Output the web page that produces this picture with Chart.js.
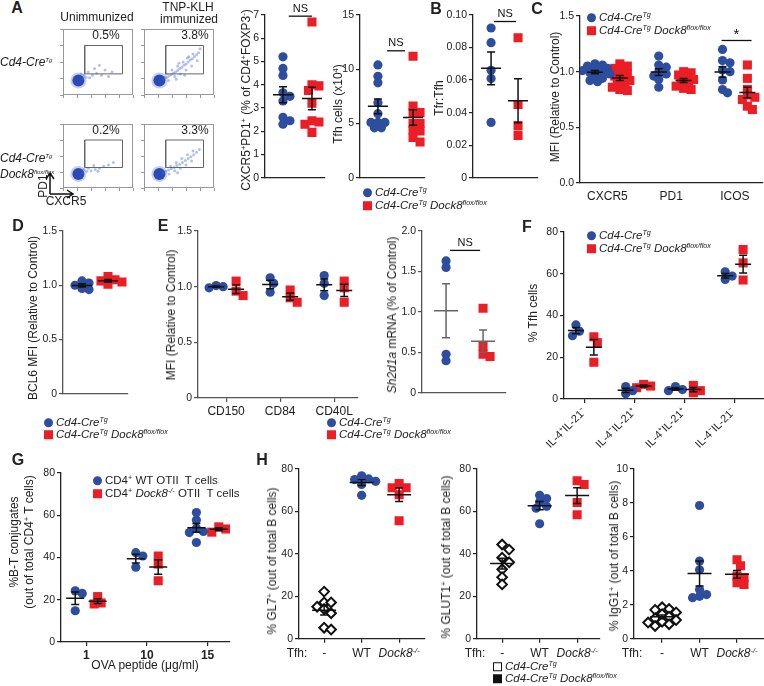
<!DOCTYPE html>
<html>
<head>
<meta charset="utf-8">
<script src="https://cdn.jsdelivr.net/npm/chart.js@4.4.1/dist/chart.umd.min.js"></script>
<style>
  body { margin: 0; width: 764px; height: 686px; overflow: hidden; background: #fff; position: relative;
         font-family: "Liberation Sans", Arial, sans-serif; color: #222; }
  canvas { position: absolute; }
  .t { position: absolute; white-space: nowrap; font-size: 12px; line-height: 1; transform: translate(-50%, -50%); }
  .t.l { transform: translate(0, -50%); }
  .t.r { transform: translate(-50%, -50%) rotate(-90deg); }
  .t.p { font-weight: bold; font-size: 16px; }
  .t.s { font-size: 11.5px; }
  sup { font-size: 0.62em; vertical-align: 0.6em; line-height: 0; }
  .tiny sup { font-size: 0.5em; }
  .dot, .sq, .osq { display: inline-block; width: 9px; height: 9px; margin-right: 3px; vertical-align: -1px; box-sizing: border-box; }
  .dot { border-radius: 50%; background: #2d4d9f; }
  .sq { background: #ec1d25; }
  .sq.k { background: #111; }
  .osq { border: 1.6px solid #111; background: #fff; }
</style>
</head>
<body>
<script>
// colours
const blue = '#2d4d9f';
const red = '#ec1d25';

// A - flow plots (axis units 0-100)
const flowGateX = [31, 85];
const flowGateY = [32, 75];
const flowPct = ['0.5%', '3.8%', '0.2%', '3.3%'];
const flowCore = [22, 22];
const tailUnimmCtrl = [[28,25],[33,27],[38,26],[30,30],[42,30],[48,33],[55,30],[36,35],[60,38],[45,40],[70,35],[52,45],[65,28],[26,32]];
const tailImmCtrl = [[27,24],[30,26],[33,27],[36,29],[39,31],[42,33],[45,35],[48,37],[51,40],[54,42],[57,45],[60,47],[63,50],[66,53],[69,55],[72,58],[75,61],[78,64],[32,32],[40,38],[48,44],[56,50],[64,58],[44,28],[52,32],[60,38],[68,44],[76,52],[35,22],[46,24],[58,30],[70,62],[80,70],[62,56],[50,48]];
const tailUnimmKO = [[28,24],[34,26],[40,27],[46,29],[52,31],[36,31],[58,34],[44,35],[65,36],[30,29],[50,26],[72,40]];
const tailImmKO = [[27,24],[31,26],[35,28],[39,30],[43,32],[47,35],[51,37],[55,40],[59,43],[63,46],[67,49],[71,52],[75,56],[79,60],[38,34],[46,40],[54,46],[62,52],[70,58],[44,27],[52,31],[60,36],[68,42],[36,22],[48,24]];

// A - Tfh frequency and number
const tfhPctCtrl = [5.2, 4.7, 4.4, 3.65, 3.5, 3.3, 2.6, 2.45, 2.3];
const tfhPctKO = [6.7, 4.0, 3.95, 3.75, 3.2, 2.45, 2.4, 2.3, 1.95];
const tfhNumCtrl = [10.4, 9.35, 8.75, 6.9, 5.9, 5.1, 5.1, 5.1, 4.6, 4.6];
const tfhNumKO = [11.2, 6.6, 6.0, 6.0, 5.0, 5.0, 4.4, 4.3, 3.7, 3.3];
// B
const tfrCtrl = [0.092, 0.083, 0.066, 0.061, 0.034];
const tfrKO = [0.086, 0.045, 0.032, 0.026];
// C
const mfiMarkers = ['CXCR5', 'PD1', 'ICOS'];
const mfiCtrl = [
  [1.07, 1.06, 1.05, 1.03, 1.02, 1.01, 1.0, 0.99, 0.98, 0.96, 0.94, 0.92, 0.91],
  [1.14, 1.06, 1.04, 1.0, 0.98, 0.96, 0.93, 0.86],
  [1.2, 1.1, 1.08, 1.015, 1.0, 0.925, 0.84, 0.81]
];
const mfiKO = [
  [1.07, 1.05, 1.03, 1.0, 0.98, 0.96, 0.94, 0.92, 0.9, 0.88, 0.86, 0.84, 0.83],
  [1.0, 0.99, 0.97, 0.95, 0.93, 0.91, 0.89, 0.87, 0.85, 0.84],
  [1.06, 0.94, 0.84, 0.79, 0.77, 0.75, 0.69, 0.66]
];
// D
const bcl6Ctrl = [1.04, 1.02, 1.0, 0.97, 0.96];
const bcl6KO = [1.08, 1.05, 1.04, 1.03, 1.01];
// E
const slamMarkers = ['CD150', 'CD84', 'CD40L'];
const slamCtrl = [[1.01, 1.0, 0.99], [1.08, 1.03, 0.95], [1.1, 1.03, 0.92]];
const slamKO = [[1.05, 0.96, 0.92], [0.97, 0.9, 0.86], [1.05, 0.99, 0.86]];
const sh2d1aCtrl = [1.63, 1.55, 0.475, 0.395];
const sh2d1aKO = [1.045, 0.575, 0.475, 0.447];
// F
const cytoGroups = ['IL-4⁺IL-21⁻', 'IL-4⁻IL-21⁺', 'IL-4⁺IL-21⁺', 'IL-4⁻IL-21⁻'];
const cytoCtrl = [[35.5, 32.5, 30.3], [6, 4, 2.5], [6, 4.5, 4], [60.9, 58.9, 57.3]];
const cytoKO = [[29.8, 27, 17.6], [7, 6.2, 5.4], [6.5, 4, 3], [71.6, 65.2, 57]];
// G
const ovaDoses = ['1', '10', '15'];
const conjWT = [[24.2, 23, 14.8], [42.3, 40.7, 35.4], [61.3, 57.8, 53.9, 52.3, 51.8, 47.1]];
const conjKO = [[21.5, 18.5, 18], [40.7, 36.9, 29], [54.5, 53.5, 52]];
// H
const tfhTypes = ['-', 'WT', '<i>Dock8<sup>-/-</sup></i>'];
const gl7None = [22.2, 17.1, 17.1, 15.1, 14, 12, 5.2, 4.3];
const gl7WT = [76.8, 75.3, 75, 74.2, 72.7, 67.6];
const gl7KO = [73.2, 71.2, 71.2, 67.9, 55.6];
const glut1None = [44.4, 42, 38.2, 36, 32.7, 29, 25.6];
const glut1WT = [67.6, 66.1, 64.5, 62.4, 61.5, 54.2];
const glut1KO = [74.5, 72.7, 64.2, 58.4];
const igg1None = [1.85, 1.75, 1.7, 1.55, 1.45, 1.3, 1.2, 1.1, 1.0, 0.95, 0.85, 0.75];
const igg1WT = [7.85, 4.58, 4.06, 2.9, 2.6, 2.5, 2.42];
const igg1KO = [4.65, 4.3, 3.7, 3.6, 3.3, 3.2];

// ---------- helpers ----------
Chart.defaults.font.family = '"Liberation Sans", Arial, sans-serif';
Chart.defaults.color = '#222';
Chart.defaults.animation = false;
Chart.defaults.plugins.legend.display = false;
Chart.defaults.plugins.tooltip.enabled = false;

const styles = {
  ctrl: { pointStyle: 'circle', pointRadius: 4.6, backgroundColor: blue, borderWidth: 0 },
  ko: { pointStyle: 'rect', pointRadius: 6.4, backgroundColor: red, borderWidth: 0 },
  none: { pointStyle: 'rectRot', pointRadius: 4.8, backgroundColor: '#fff', borderColor: '#111', borderWidth: 2 }
};

function txt(html, x, y, cls, css) {
  const d = document.createElement('div');
  d.className = 't ' + (cls || '');
  d.innerHTML = html;
  d.style.left = x + 'px';
  d.style.top = y + 'px';
  if (css) d.style.cssText += css;
  document.body.appendChild(d);
}

function legend(x, y, rows, gap) {
  rows.forEach((r, i) => txt('<span class="' + r[0] + '"></span>' + r[1], x, y + i * (gap || 13), 'l s', r[2]));
}

function makeCanvas(box, yW, padL, padT, padR, xH) {
  const c = document.createElement('canvas');
  c.width = padL + yW + (box.r - box.l) + padR;
  c.height = padT + (box.b - box.t) + xH;
  c.style.left = (box.l - yW - padL) + 'px';
  c.style.top = (box.t - padT) + 'px';
  document.body.appendChild(c);
  return c;
}

// simple beeswarm: horizontal pixel offsets so points don't pile up
function swarm(vals, pxY, step, minD) {
  const order = vals.map((v, i) => i).sort((a, b) => vals[b] - vals[a]);
  const placed = [], offs = [];
  order.forEach(i => {
    const y = vals[i] * pxY;
    for (let k = 0; k < 40; k++) {
      const off = (k % 2 ? 1 : -1) * Math.ceil(k / 2) * step;
      if (placed.every(p => (p.x - off) ** 2 + (p.y - y) ** 2 >= minD * minD)) {
        placed.push({ x: off, y });
        offs[i] = off;
        break;
      }
    }
  });
  return offs;
}

function dotPlot(box, o) {
  const yW = 40, padL = 40, padT = 18, padR = 24, xH = o.xH || 3;
  const c = makeCanvas(box, yW, padL, padT, padR, xH);
  const pxX = (box.r - box.l) / (o.xMax - o.xMin);
  const pxY = (box.b - box.t) / o.yMax;
  const nS = o.series.length;
  const stats = [];
  const axisCol = o.axisCol || '#222';
  const datasets = o.series.map((s, si) => {
    const pts = [];
    s.values.forEach((vals, g) => {
      if (!vals) return;
      const cx = g + (o.sep ? (si - (nS - 1) / 2) * o.sep : 0);
      const offs = swarm(vals, pxY, o.step || 3.5, o.minD || 6.5);
      vals.forEach((v, i) => pts.push({ x: cx + offs[i] / pxX, y: v }));
      const m = vals.reduce((a, b) => a + b, 0) / vals.length;
      const sd = Math.sqrt(vals.reduce((a, b) => a + (b - m) ** 2, 0) / (vals.length - 1));
      stats.push({ x: cx, m, e: sd / Math.sqrt(vals.length) });
    });
    return Object.assign({ data: pts }, styles[s.kind]);
  });

  new Chart(c, {
    type: 'scatter',
    data: { datasets },
    options: {
      responsive: false,
      layout: { padding: { left: padL, top: padT, right: padR, bottom: 0 } },
      scales: {
        x: {
          type: 'linear', min: o.xMin, max: o.xMax,
          afterFit: s => { s.height = xH; },
          afterBuildTicks: s => { s.ticks = o.groups.map((g, i) => ({ value: i })); },
          ticks: {
            display: !!o.xLabels, autoSkip: false, maxRotation: o.rot || 0, minRotation: o.rot || 0,
            font: o.xFont || { size: 12 }, color: '#222', padding: 2,
            callback: (v, i) => o.groups[i]
          },
          grid: { display: !!o.xTicks, drawOnChartArea: false, tickLength: 4, color: axisCol, lineWidth: 1.2 },
          border: { display: true, color: axisCol, width: 1.3 }
        },
        y: {
          min: 0, max: o.yMax,
          afterFit: s => { s.width = yW; },
          ticks: { stepSize: o.yStep, callback: o.yFmt || (v => v), font: { size: 10.5 }, color: '#222', padding: 2 },
          grid: { drawOnChartArea: false, tickLength: 4, color: axisCol, lineWidth: 1.2 },
          border: { color: axisCol, width: 1.3 }
        }
      }
    },
    plugins: [{
      id: 'meanSem',
      afterDatasetsDraw(chart) {
        const { ctx, scales: { x, y } } = chart;
        const mw = o.meanW || 10, cw = o.capW || 4;
        ctx.save();
        ctx.strokeStyle = o.barCol || '#111';
        ctx.lineWidth = 1.5;
        stats.forEach(s => {
          const px = x.getPixelForValue(s.x), pm = y.getPixelForValue(s.m);
          const p1 = y.getPixelForValue(s.m - s.e), p2 = y.getPixelForValue(s.m + s.e);
          ctx.beginPath();
          ctx.moveTo(px - mw, pm); ctx.lineTo(px + mw, pm);
          ctx.moveTo(px, p1); ctx.lineTo(px, p2);
          ctx.moveTo(px - cw, p1); ctx.lineTo(px + cw, p1);
          ctx.moveTo(px - cw, p2); ctx.lineTo(px + cw, p2);
          ctx.stroke();
        });
        if (o.bracket) {
          const b = o.bracket;
          const x1 = x.getPixelForValue(b.x[0]), x2 = x.getPixelForValue(b.x[1]), py = y.getPixelForValue(b.y);
          ctx.strokeStyle = '#111';
          ctx.lineWidth = 1.3;
          ctx.beginPath(); ctx.moveTo(x1, py); ctx.lineTo(x2, py); ctx.stroke();
          ctx.fillStyle = '#111';
          ctx.font = (b.size || 11) + 'px "Liberation Sans", Arial, sans-serif';
          ctx.textAlign = 'center';
          ctx.textBaseline = 'bottom';
          ctx.fillText(b.text, (x1 + x2) / 2, py - (b.lift || 2));
        }
        ctx.restore();
      }
    }]
  });
  return g => box.l + (g - o.xMin) * pxX;
}

function flowPlot(box, tail) {
  const c = makeCanvas(box, 6, 4, 4, 4, 6);
  const gate = [[0, 0], [1, 0], [1, 1], [0, 1], [0, 0]].map(p => ({ x: flowGateX[p[0]], y: flowGateY[p[1]] }));
  const core = [[8, 'rgba(70,100,210,0.3)'], [6, '#2240a8'], [4.7, '#2b9fd9'], [3.5, '#3cbf5c'], [2.3, '#e6e030'], [1.2, '#e0381f']];
  new Chart(c, {
    type: 'scatter',
    data: {
      datasets: [
        { data: tail.map(p => ({ x: p[0], y: p[1] })), pointRadius: 1.5, backgroundColor: 'rgba(70,100,210,0.4)', borderWidth: 0 }
      ].concat(core.map(k => ({ data: [{ x: flowCore[0], y: flowCore[1] }], pointRadius: k[0], backgroundColor: k[1], borderWidth: 0 })))
       .concat([{ data: gate, showLine: true, pointRadius: 0, borderColor: '#666', borderWidth: 1 }])
    },
    options: {
      responsive: false,
      layout: { padding: { left: 4, top: 4, right: 4, bottom: 0 } },
      scales: {
        x: { min: 0, max: 100, afterFit: s => { s.height = 6; }, ticks: { display: false, stepSize: 20 },
             grid: { drawOnChartArea: false, tickLength: 3, color: '#999' }, border: { display: false } },
        y: { min: 0, max: 100, afterFit: s => { s.width = 6; }, ticks: { display: false, stepSize: 25 },
             grid: { drawOnChartArea: false, tickLength: 3, color: '#999' }, border: { display: false } }
      }
    },
    plugins: [{
      id: 'frame',
      beforeDatasetsDraw(chart) {
        const a = chart.chartArea, ctx = chart.ctx;
        ctx.save(); ctx.strokeStyle = '#999'; ctx.lineWidth = 1;
        ctx.strokeRect(a.left + 0.5, a.top + 0.5, a.right - a.left - 1, a.bottom - a.top - 1);
        ctx.restore();
      }
    }]
  });
}

const ctrlName = '<i>Cd4-Cre<sup>Tg</sup></i>';
const koName = '<i>Cd4-Cre<sup>Tg</sup> Dock8<sup>flox/flox</sup></i>';
const fmt1 = v => v === 0 ? '0' : v.toFixed(1);

// ---------- A ----------
flowPlot({ l: 63, t: 25, r: 137, b: 97 }, tailUnimmCtrl);
flowPlot({ l: 144, t: 25, r: 218, b: 97 }, tailImmCtrl);
flowPlot({ l: 63, t: 120, r: 137, b: 190 }, tailUnimmKO);
flowPlot({ l: 144, t: 120, r: 218, b: 190 }, tailImmKO);

dotPlot({ l: 265, t: 15, r: 325, b: 183 }, {
  groups: [''], xMin: -1.12, xMax: 0.95, sep: 1, yMax: 7, yStep: 1,
  series: [{ kind: 'ctrl', values: [tfhPctCtrl] }, { kind: 'ko', values: [tfhPctKO] }],
  bracket: { x: [-0.3, 0.5], y: 6.95, text: 'NS' }
});
dotPlot({ l: 360, t: 15, r: 425, b: 183 }, {
  groups: [''], xMin: -1.01, xMax: 0.84, sep: 1, yMax: 15, yStep: 5,
  series: [{ kind: 'ctrl', values: [tfhNumCtrl] }, { kind: 'ko', values: [tfhNumKO] }],
  bracket: { x: [-0.24, 0.27], y: 11.7, text: 'NS' }
});

// ---------- B ----------
dotPlot({ l: 473, t: 15, r: 538, b: 183 }, {
  groups: [''], xMin: -1.17, xMax: 1.24, sep: 1, yMax: 0.1, yStep: 0.02,
  yFmt: v => v === 0 ? '0' : v.toFixed(2),
  series: [{ kind: 'ctrl', values: [tfrCtrl] }, { kind: 'ko', values: [tfrKO] }],
  bracket: { x: [-0.39, 0.43], y: 0.096, text: 'NS' }
});

// ---------- C ----------
dotPlot({ l: 580, t: 16, r: 763, b: 183 }, {
  groups: mfiMarkers, xLabels: true, xH: 22, xMin: -0.43, xMax: 2.44, sep: 0.39, yMax: 1.5, yStep: 0.5,
  yFmt: v => v.toFixed(1), meanW: 8, capW: 4, step: 2.5, minD: 5.5,
  series: [{ kind: 'ctrl', values: mfiCtrl }, { kind: 'ko', values: mfiKO }],
  bracket: { x: [1.79, 2.26], y: 1.28, text: '*', size: 15, lift: -2 }
});

// ---------- D ----------
dotPlot({ l: 63, t: 231, r: 128, b: 399 }, {
  groups: [''], xMin: -1.23, xMax: 1.27, sep: 1, yMax: 1.5, yStep: 0.5, yFmt: fmt1, axisCol: '#555',
  series: [{ kind: 'ctrl', values: [bcl6Ctrl] }, { kind: 'ko', values: [bcl6KO] }]
});

// ---------- E ----------
dotPlot({ l: 198, t: 231, r: 358, b: 398 }, {
  groups: slamMarkers, xLabels: true, xTicks: true, xH: 24, xMin: -0.52, xMax: 2.44, sep: 0.37,
  yMax: 1.5, yStep: 0.5, yFmt: fmt1, axisCol: '#555', meanW: 8,
  series: [{ kind: 'ctrl', values: slamCtrl }, { kind: 'ko', values: slamKO }]
});
dotPlot({ l: 422, t: 231, r: 506, b: 398 }, {
  groups: [''], xMin: -1.15, xMax: 1.12, sep: 1, yMax: 2, yStep: 0.5, yFmt: fmt1, axisCol: '#555',
  barCol: '#666', meanW: 12, capW: 4,
  series: [{ kind: 'ctrl', values: [sh2d1aCtrl] }, { kind: 'ko', values: [sh2d1aKO] }],
  bracket: { x: [-0.39, 0.42], y: 1.76, text: 'NS' }
});

// ---------- F ----------
dotPlot({ l: 564, t: 232, r: 764, b: 399 }, {
  groups: cytoGroups, xLabels: true, xTicks: true, xH: 62, rot: 45, xFont: { size: 11 },
  xMin: -0.42, xMax: 3.6, sep: 0.36, yMax: 80, yStep: 20, meanW: 8,
  series: [{ kind: 'ctrl', values: cytoCtrl }, { kind: 'ko', values: cytoKO }]
});

// ---------- G ----------
dotPlot({ l: 61, t: 473, r: 230, b: 642 }, {
  groups: ovaDoses, xLabels: true, xTicks: true, xH: 22, xFont: { size: 12, weight: 'bold' },
  xMin: -0.42, xMax: 2.37, sep: 0.37, yMax: 80, yStep: 20, meanW: 9,
  series: [{ kind: 'ctrl', values: conjWT }, { kind: 'ko', values: conjKO }]
});

// ---------- H ----------
const hBoxes = [
  { l: 299, t: 469, r: 425, b: 642, xMin: -0.67, xMax: 2.69, yMax: 80, yStep: 20, v: [gl7None, gl7WT, gl7KO] },
  { l: 477, t: 469, r: 600, b: 642, xMin: -0.67, xMax: 2.61, yMax: 80, yStep: 20, v: [glut1None, glut1WT, glut1KO] },
  { l: 634, t: 469, r: 764, b: 642, xMin: -0.75, xMax: 2.72, yMax: 10, yStep: 2, v: [igg1None, igg1WT, igg1KO] }
];
hBoxes.forEach(h => {
  const tickX = dotPlot(h, {
    groups: tfhTypes, xTicks: true, xH: 5, xMin: h.xMin, xMax: h.xMax, sep: 0,
    yMax: h.yMax, yStep: h.yStep, meanW: 12, capW: 4,
    series: [
      { kind: 'none', values: [h.v[0], null, null] },
      { kind: 'ctrl', values: [null, h.v[1], null] },
      { kind: 'ko', values: [null, null, h.v[2]] }
    ]
  });
  txt('Tfh:', h.l - 2, 653);
  tfhTypes.forEach((t, g) => txt(t, tickX(g), 653));
});

// ---------- text ----------
txt('A', 17, 8, 'p');
txt('B', 436, 9, 'p');
txt('C', 537, 9, 'p');
txt('D', 18, 226, 'p');
txt('E', 163, 226, 'p');
txt('F', 527, 227, 'p');
txt('G', 18, 460, 'p');
txt('H', 262, 460, 'p');

txt('Unimmunized', 97, 17);
txt('TNP-KLH', 188, 7);
txt('immunized', 189, 19);
txt(flowPct[0], 106, 35);
txt(flowPct[1], 195, 35);
txt(flowPct[2], 106, 130);
txt(flowPct[3], 195, 130);
txt(ctrlName, 0, 62, 'l tiny');
txt(ctrlName, 0, 158, 'l tiny');
txt('<i>Dock8<sup>flox/flox</sup></i>', 0, 174, 'l tiny');
txt('PD1', 43, 186, 'r');
txt('CXCR5', 66, 201);
document.body.insertAdjacentHTML('beforeend',
  '<svg style="position:absolute;left:0;top:0" width="100" height="210">' +
  '<path d="M50 194 V174 M46 179 L50 173 L54 179 M50 194 H72 M67 190 L73 194 L67 198" stroke="#111" stroke-width="1.5" fill="none"/></svg>');

txt('CXCR5<sup>+</sup>PD1<sup>+</sup> (% of CD4<sup>+</sup>FOXP3<sup>-</sup>)', 246, 100, 'r');
txt('Tfh cells (x10<sup>4</sup>)', 338, 104, 'r');
legend(363, 193, [['dot', ctrlName], ['sq', koName]]);

txt('Tfr:Tfh', 439, 98, 'r');

txt('MFI (Relative to Control)', 555, 97, 'r');
legend(587, 18, [['dot', ctrlName], ['sq', koName]], 13);

txt('BCL6 MFI (Relative to Control)', 33, 318, 'r');
legend(44, 423, [['dot', ctrlName], ['sq', koName]], 12);

txt('MFI (Relative to Control)', 171, 315, 'r');
legend(327, 423, [['dot', ctrlName], ['sq', koName]], 12);
txt('<i>Sh2d1a</i> mRNA (% of Control)', 392, 315, 'r');

txt('% Tfh cells', 533, 313, 'r');
legend(587, 236, [['dot', ctrlName], ['sq', koName]], 13);

txt('%B-T conjugates<br>(out of total CD4<sup>+</sup> T cells)', 22, 542, 'r', 'line-height:15px;text-align:center');
legend(93, 481, [['dot', 'CD4<sup>+</sup> WT OTII&nbsp; T cells'], ['sq', 'CD4<sup>+</sup> <i>Dock8<sup>-/-</sup></i> OTII&nbsp; T cells']], 12.5);
txt('OVA peptide (\u03bcg/ml)', 145, 665);

txt('% GL7<sup>+</sup> (out of total B cells)', 272, 561, 'r');
txt('% GLUT1<sup>+</sup> (out of total B cells)', 446, 557, 'r');
txt('% IgG1<sup>+</sup> (out of total B cells)', 614, 556, 'r');
legend(493, 667, [['osq', ctrlName], ['sq k', koName]], 12);
</script>
</body>
</html>
